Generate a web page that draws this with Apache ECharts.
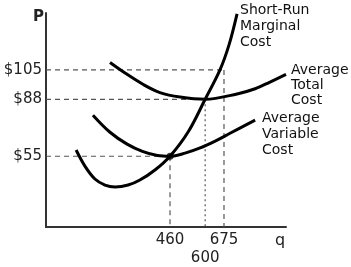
<!DOCTYPE html>
<html>
<head>
<meta charset="utf-8">
<script src="https://cdn.jsdelivr.net/npm/echarts@6/dist/echarts.min.js"></script>
<style>html,body{margin:0;padding:0;background:#fff}#c{width:351px;height:267px}</style>
</head>
<body>
<div id="c"></div>
<script>
// Price levels marked on the P axis
const priceLevels = [55, 88, 105];
const priceLabels = ['$55', '$88', '$105'];
// Quantity levels marked on the q axis
const quantityLevels = [460, 600, 675];
const quantityLabels = ['460', '600', '675'];

// Short-Run Marginal Cost curve [q, P]
const mcCurve = [[86, 58.6], [121, 49.3], [161, 41.8], [201, 38.3], [241, 37.2], [293, 38.3], [340, 41.2], [400, 47.0], [460, 55], [532, 69.0], [600, 88], [659, 105], [695, 119.5], [727, 137.5]];
// Average Total Cost curve [q, P]
const atcCurve = [[221, 109.3], [281, 103.2], [352, 96.7], [420, 91.9], [500, 89.3], [600, 88], [727, 91.1], [799, 94.1], [858, 98.0], [922, 102.4]];
// Average Variable Cost curve [q, P]
const avcCurve = [[153, 78.8], [221, 68.9], [289, 62.0], [350, 57.8], [410, 55.4], [460, 55], [520, 56.8], [580, 59.8], [640, 63.8], [699, 68.3], [799, 75.9]];

const qMin = -34, qMax = 922, pMin = 14, pMax = 138;

const chart = echarts.init(document.getElementById('c'));
const numFont = 'DejaVu Sans';
function seg(data, dash) {
  return {type: 'line', silent: true, symbol: 'none', z: 1,
    lineStyle: {color: '#555', width: 1.2, type: dash}, data: data};
}
const guides = [];
priceLevels.forEach(function (p, i) {
  const q = quantityLevels[i];
  guides.push(seg([[qMin, p], [q, p]], [5, 4]));
  guides.push(seg([[q, p], [q, pMin]], i === 1 ? [2, 3] : [5, 4]));
});
function curve(d) {
  return {type: 'line', smooth: 0.35, symbol: 'none', z: 3, lineStyle: {color: '#000', width: 3}, data: d};
}
const labelStyle = {fontFamily: numFont, fontSize: 15, color: '#222'};
chart.setOption({
  animation: false,
  grid: {left: 46, top: 13, right: 65, bottom: 40},
  xAxis: [{
    type: 'value', min: qMin, max: qMax,
    splitLine: {show: false},
    axisLine: {onZero: false, lineStyle: {color: '#333', width: 2}},
    axisTick: {show: false},
    axisLabel: Object.assign({
      customValues: [quantityLevels[0], quantityLevels[2]],
      margin: 6, hideOverlap: false,
      formatter: function (v) { return quantityLabels[quantityLevels.indexOf(v)]; }
    }, labelStyle)
  }, {
    type: 'value', min: qMin, max: qMax, position: 'bottom',
    splitLine: {show: false},
    axisLine: {show: false},
    axisTick: {show: false},
    axisLabel: Object.assign({
      customValues: [quantityLevels[1]],
      margin: 24,
      formatter: function (v) { return quantityLabels[quantityLevels.indexOf(v)]; }
    }, labelStyle)
  }],
  yAxis: {
    type: 'value', min: pMin, max: pMax,
    splitLine: {show: false},
    axisLine: {onZero: false, lineStyle: {color: '#333', width: 2}},
    axisTick: {show: false},
    axisLabel: Object.assign({
      customValues: priceLevels,
      margin: 4,
      formatter: function (v) { return priceLabels[priceLevels.indexOf(v)]; }
    }, labelStyle)
  },
  graphic: [
    {type: 'text', left: 33, top: 10, style: {text: 'P', font: 'bold 15px DejaVu Sans', fill: '#222'}},
    {type: 'text', left: 275, top: 233, style: {text: 'q', font: '16px DejaVu Sans', fill: '#222'}},
    {type: 'text', left: 240, top: 2, style: {text: 'Short-Run\nMarginal\nCost', font: '14px DejaVu Sans', fill: '#111', lineHeight: 16}},
    {type: 'text', left: 291, top: 63, style: {text: 'Average\nTotal\nCost', font: '14px DejaVu Sans', fill: '#111', lineHeight: 15}},
    {type: 'text', left: 262, top: 110, style: {text: 'Average\nVariable\nCost', font: '14px DejaVu Sans', fill: '#111', lineHeight: 16}}
  ],
  series: guides.concat([
    curve(mcCurve), curve(atcCurve), curve(avcCurve),
    {type: 'scatter', symbolSize: 7, z: 4, itemStyle: {color: '#000'}, data: [[quantityLevels[0], priceLevels[0]]]}
  ])
});
</script>
</body>
</html>
